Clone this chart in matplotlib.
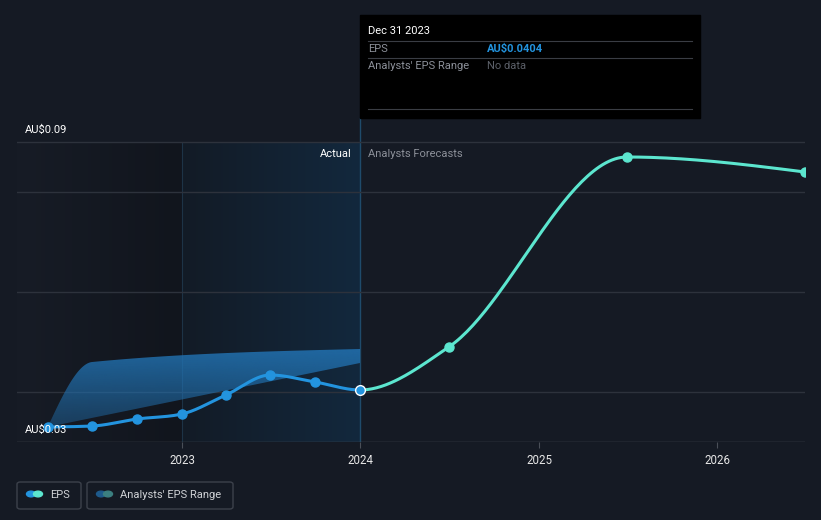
import numpy as np
import pandas as pd
import matplotlib
matplotlib.use("Agg")
import matplotlib.pyplot as plt
import matplotlib.dates as mdates
from matplotlib.colors import LinearSegmentedColormap, to_rgb
from matplotlib.patches import Rectangle, FancyBboxPatch, Circle

plt.rcParams['font.family'] = ['Roboto', 'DejaVu Sans']

# DATA

actual_dates = ["2022-03-31", "2022-06-30", "2022-09-30", "2022-12-31",
                "2023-03-31", "2023-06-30", "2023-09-30", "2023-12-31"]
actual_eps = [0.0330, 0.0332, 0.0346, 0.0356, 0.0394, 0.0434, 0.0420, 0.0404]

forecast_dates = ["2024-06-30", "2025-06-30", "2026-06-30"]
forecast_eps = [0.0490, 0.0870, 0.0840]

range_high_dates = ["2022-03-31", "2022-06-30", "2023-12-31"]
range_high = [0.0330, 0.0460, 0.0486]
range_low_dates = ["2022-03-31", "2023-12-31"]
range_low = [0.0330, 0.0458]

grid_values = [0.03, 0.04, 0.06, 0.08, 0.09]
year_ticks = ["2023", "2024", "2025", "2026"]

BG = "#151a24"
BLUE = "#2394df"
TEAL = "#5ce6cf"


def to_num(dates):
    return mdates.date2num(pd.to_datetime(dates))


# MONOTONE CUBIC INTERPOLATION (LIKE D3 CURVEMONOTONEX)

def slopes(x, y):
    h = np.diff(x)
    d = np.diff(y) / h
    m = np.zeros(len(x))
    for i in range(1, len(x) - 1):
        p = (d[i - 1] * h[i] + d[i] * h[i - 1]) / (h[i - 1] + h[i])
        m[i] = (np.sign(d[i - 1]) + np.sign(d[i])) * min(abs(d[i - 1]), abs(d[i]), 0.5 * abs(p))
    if len(x) > 2:
        m[0] = (3 * d[0] - m[1]) / 2
        m[-1] = (3 * d[-1] - m[-2]) / 2
    else:
        m[:] = d[0]
    return m


def monotone(x, y, n=60):
    x = np.asarray(x, float)
    y = np.asarray(y, float)
    m = slopes(x, y)
    h = np.diff(x)
    segs_x, segs_y = [], []
    for i in range(len(x) - 1):
        t = np.linspace(0, 1, n)
        hh = h[i]
        h00 = 2 * t**3 - 3 * t**2 + 1
        h10 = t**3 - 2 * t**2 + t
        h01 = -2 * t**3 + 3 * t**2
        h11 = t**3 - t**2
        segs_x.append(x[i] + t * hh)
        segs_y.append(h00 * y[i] + h10 * hh * m[i] + h01 * y[i + 1] + h11 * hh * m[i + 1])
    return segs_x, segs_y


ax_x = to_num(actual_dates)
fc_x = to_num(forecast_dates)
hi_x = to_num(range_high_dates)
lo_x = to_num(range_low_dates)

# ONE CONTINUOUS EPS SERIES, COLOURED BY PAST AND FUTURE
all_x = np.concatenate([ax_x, fc_x])
all_y = np.concatenate([actual_eps, forecast_eps])
seg_x, seg_y = monotone(all_x, all_y)
n_past = len(ax_x) - 1

x_left = mdates.date2num(pd.Timestamp("2022-01-27"))
x_right = fc_x[-1]
x_2023 = mdates.date2num(pd.Timestamp("2023-01-01"))

y_bottom = 0.03
y_top_grid = 0.09
y_top = 0.09 + 24 * 0.0002

fig = plt.figure(figsize=(8.21, 5.20), dpi=100, facecolor=BG)
ax = fig.add_axes([17 / 821, 1 - 442 / 520, 788 / 821, 324 / 520])
ax.set_facecolor(BG)
ax.set_xlim(x_left, x_right)
ax.set_ylim(y_bottom, y_top)

# BACKGROUND SHADING

grad = np.linspace(0, 1, 256).reshape(1, -1)
cm_left = LinearSegmentedColormap.from_list("l", ["#171c26", "#11151d"])
ax.imshow(grad, cmap=cm_left, aspect="auto", extent=[x_left, x_2023, y_bottom, y_top_grid],
          zorder=0, interpolation="bicubic")
cm_mid = LinearSegmentedColormap.from_list("m", ["#131b26", "#12283d"])
ax.imshow(grad, cmap=cm_mid, aspect="auto", extent=[x_2023, ax_x[-1], y_bottom, y_top_grid],
          zorder=0, interpolation="bicubic")
ax.plot([x_2023, x_2023], [y_bottom, y_top_grid], color="#1d3346", lw=0.8, zorder=1)
ax.plot([ax_x[-1], ax_x[-1]], [y_bottom, y_top], color="#1f4b6b", lw=1, zorder=1)

# GRIDLINES

for g in grid_values:
    ax.axhline(g, color="#2d323c" if g != y_bottom else "#4a4f58", lw=1, zorder=1)

# ANALYSTS RANGE BAND

xs = np.linspace(hi_x[0], hi_x[-1], 400)
hx, hy = monotone(hi_x, range_high, 200)
upper = np.interp(xs, np.concatenate(hx), np.concatenate(hy))
lower = np.interp(xs, lo_x, range_low)
band = ax.fill_between(xs, lower, upper, color="none", lw=0, zorder=2)
c = to_rgb("#2273b3")
rgba = np.zeros((256, 1, 4))
rgba[:, 0, :3] = c
rgba[:, 0, 3] = np.linspace(0.85, 0.3, 256)
img = ax.imshow(rgba, aspect="auto", extent=[xs[0], xs[-1], y_bottom, max(upper)],
                zorder=2, origin="upper")
img.set_clip_path(band.get_paths()[0], transform=ax.transData)

# EPS LINES

ax.plot(np.concatenate(seg_x[:n_past]), np.concatenate(seg_y[:n_past]),
        color=BLUE, lw=2.2, zorder=4, solid_capstyle="round")
ax.plot(np.concatenate(seg_x[n_past:]), np.concatenate(seg_y[n_past:]),
        color=TEAL, lw=2.2, zorder=4, solid_capstyle="round")
ax.plot(ax_x[:-1], actual_eps[:-1], "o", color=BLUE, ms=6.5, zorder=5)
ax.plot(fc_x, forecast_eps, "o", color=TEAL, ms=6.5, zorder=5)
ax.plot(ax_x[-1], actual_eps[-1], "o", color=BLUE, ms=7, mec="white", mew=1, zorder=6)

# AXES STYLING

for s in ax.spines.values():
    s.set_visible(False)
ax.set_yticks([])
ax.set_xticks([mdates.date2num(pd.Timestamp(f"{y}-01-01")) for y in year_ticks])
ax.set_xticklabels(year_ticks, color="#e6e6e6", fontsize=8.3)
ax.tick_params(axis="x", length=4, color="#4a4f58", pad=5)

# Y LABELS AND SECTION LABELS

fig.text(25 / 821, 1 - 130 / 520, "AU$0.09", color="white", fontsize=8, va="center")
fig.text(25 / 821, 1 - 430 / 520, "AU$0.03", color="white", fontsize=8, va="center")
fig.text(352 / 821, 1 - 154 / 520, "Actual", color="white", fontsize=8, va="center", ha="right")
fig.text(368 / 821, 1 - 154 / 520, "Analysts Forecasts", color="#8c9099", fontsize=8, va="center")

# TOOLTIP

fig.patches.append(Rectangle((360 / 821, 1 - 118 / 520), 340 / 821, 103 / 520,
                             transform=fig.transFigure, color="black", zorder=10))
for yy in [41, 58, 109]:
    fig.lines.append(plt.Line2D([368 / 821, 692 / 821], [1 - yy / 520] * 2,
                                transform=fig.transFigure, color="#3a3d44", lw=0.8, zorder=11))
fig.text(368 / 821, 1 - 31 / 520, "Dec 31 2023", color="white", fontsize=8, va="center", zorder=12)
fig.text(368 / 821, 1 - 49 / 520, "EPS", color="#8c9099", fontsize=8, va="center", zorder=12)
fig.text(487 / 821, 1 - 49 / 520, "AU$0.0404", color=BLUE, fontsize=8, fontweight="bold",
         va="center", zorder=12)
fig.text(368 / 821, 1 - 66 / 520, "Analysts' EPS Range", color="#8c9099", fontsize=8,
         va="center", zorder=12)
fig.text(487 / 821, 1 - 66 / 520, "No data", color="#5c6069", fontsize=8, va="center", zorder=12)

# LEGEND


def legend_box(x0, x1, label, c1, c2):
    fig.patches.append(FancyBboxPatch((x0 / 821, 1 - 509 / 520), (x1 - x0) / 821, 27 / 520,
                                      boxstyle="round,pad=0,rounding_size=0.004",
                                      transform=fig.transFigure, fc="none", ec="#3c414b",
                                      lw=1, zorder=10))
    for cx, col in [(x0 + 14, c1), (x0 + 21, c2)]:
        fig.patches.append(Circle((cx / 821, 1 - 494 / 520), 4.5 / 821,
                                  transform=fig.transFigure, color=col, zorder=11))
    fig.text((x0 + 33) / 821, 1 - 495 / 520, label, color="#d0d2d6", fontsize=8,
             va="center", zorder=12)


legend_box(17, 81, "EPS", BLUE, TEAL)
legend_box(87, 233, "Analysts' EPS Range", "#1e5a8c", "#3b7f80")

fig.savefig("out.png", dpi=100, facecolor=BG)
